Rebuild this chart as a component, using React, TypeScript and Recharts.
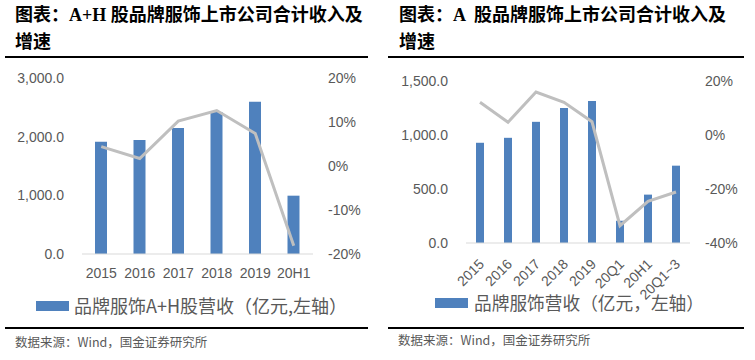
import { Bar, ComposedChart, Line, XAxis, YAxis } from 'recharts';

const ahCategories = ['2015', '2016', '2017', '2018', '2019', '20H1'];
const ahRevenue = [1914, 1943, 2148, 2420, 2597, 994];
const ahGrowth = [4.4, 1.7, 10.2, 12.6, 7.4, -18.1];
const ahRevenueTicks = [0, 1000, 2000, 3000];
const ahGrowthTicks = [-20, -10, 0, 10, 20];

const aCategories = ['2015', '2016', '2017', '2018', '2019', '20Q1', '20H1', '20Q1~3'];
const aRevenue = [928, 974, 1122, 1251, 1315, 206, 448, 716];
const aGrowth = [12.1, 4.7, 15.9, 12.1, 4.9, -33.6, -24.6, -21.1];
const aRevenueTicks = [0, 500, 1000, 1500];
const aGrowthTicks = [-40, -20, 0, 20];

const BLUE = '#4f81bd';
const GREY_LINE = '#bfbfbf';
const TEXT = '#595959';
const SANS = "'Liberation Sans', 'Noto Sans CJK SC', sans-serif";
const CJK = "'Noto Sans CJK SC', sans-serif";
const TITLE_FONT = "'Liberation Serif', 'Noto Sans CJK SC', serif";

const fmtRevenue = (v: number) =>
  v.toLocaleString('en-US', { minimumFractionDigits: 1, maximumFractionDigits: 1 });
const fmtPct = (v: number) => `${v}%`;

// x labels of the right chart, slanted like Excel does it
const RotatedTick = (props: any) => {
  const { x, y, payload } = props;
  return (
    <g transform={`translate(${x + 5},${y + 14})`}>
      <text x={0} y={0} textAnchor="end" transform="rotate(-45)" fontSize={14} fill={TEXT} fontFamily={SANS}>
        {payload.value}
      </text>
    </g>
  );
};

export default function App() {
  const ahData = ahCategories.map((c, i) => ({ cat: c, revenue: ahRevenue[i], growth: ahGrowth[i] }));
  const aData = aCategories.map((c, i) => ({ cat: c, revenue: aRevenue[i], growth: aGrowth[i] }));

  const tickStyle = { fontSize: 14, fill: TEXT, fontFamily: SANS };

  return (
    <div style={{ position: 'absolute', left: 0, top: 0, width: 755, height: 360, background: '#fff' }}>
      {/* left panel */}
      <div style={{ position: 'absolute', left: 15, top: 2, fontFamily: TITLE_FONT, fontWeight: 'bold', fontSize: 18, lineHeight: '27px', color: '#000', whiteSpace: 'nowrap' }}>
        图表：A+H 股品牌服饰上市公司合计收入及<br />增速
      </div>
      <div style={{ position: 'absolute', left: 5, top: 56, width: 363, height: 2, background: '#000' }} />
      <div style={{ position: 'absolute', left: 0, top: 60 }}>
        <ComposedChart width={377} height={240} data={ahData} margin={{ top: 18, right: 0, bottom: 10, left: 0 }}>
          <XAxis dataKey="cat" height={36} tickLine={false} stroke="#d9d9d9" tick={tickStyle} tickMargin={8} interval={0} />
          <YAxis yAxisId="left" width={82} domain={[0, 3000]} ticks={ahRevenueTicks} tickFormatter={fmtRevenue}
            axisLine={false} tickLine={false} tick={tickStyle} tickMargin={12} />
          <YAxis yAxisId="right" orientation="right" width={64} domain={[-20, 20]} ticks={ahGrowthTicks} tickFormatter={fmtPct}
            axisLine={false} tickLine={false} tick={{ ...tickStyle, textAnchor: 'start' }} tickMargin={9} />
          <Bar yAxisId="left" dataKey="revenue" fill={BLUE} barSize={12} isAnimationActive={false} />
          <Line yAxisId="right" dataKey="growth" type="linear" stroke={GREY_LINE} strokeWidth={3} dot={false} isAnimationActive={false} />
        </ComposedChart>
      </div>
      <div style={{ position: 'absolute', left: 36, top: 301, width: 33, height: 10, background: BLUE }} />
      <div style={{ position: 'absolute', left: 74, top: 293, fontFamily: CJK, fontSize: 18, lineHeight: '25px', color: TEXT, whiteSpace: 'nowrap' }}>
        品牌服饰A+H股营收（亿元,左轴）
      </div>
      <div style={{ position: 'absolute', left: 5, top: 327, width: 363, height: 2, background: '#000' }} />
      <div style={{ position: 'absolute', left: 15, top: 333, fontFamily: CJK, fontSize: 12.5, lineHeight: '18px', color: TEXT, whiteSpace: 'nowrap' }}>
        数据来源：Wind，国金证券研究所
      </div>

      {/* right panel */}
      <div style={{ position: 'absolute', left: 399, top: 2, fontFamily: TITLE_FONT, fontWeight: 'bold', fontSize: 18, lineHeight: '27px', color: '#000', whiteSpace: 'pre' }}>
        图表：A  股品牌服饰上市公司合计收入及{'\n'}增速
      </div>
      <div style={{ position: 'absolute', left: 388, top: 56, width: 356, height: 2, background: '#000' }} />
      <div style={{ position: 'absolute', left: 377, top: 60 }}>
        <ComposedChart width={378} height={245} data={aData} margin={{ top: 21, right: 0, bottom: 15, left: 0 }}>
          <XAxis dataKey="cat" height={47} tickLine={false} stroke="#d9d9d9" tick={<RotatedTick />} interval={0} />
          <YAxis yAxisId="left" width={89} domain={[0, 1500]} ticks={aRevenueTicks} tickFormatter={fmtRevenue}
            axisLine={false} tickLine={false} tick={tickStyle} tickMargin={12} />
          <YAxis yAxisId="right" orientation="right" width={65} domain={[-40, 20]} ticks={aGrowthTicks} tickFormatter={fmtPct}
            axisLine={false} tickLine={false} tick={{ ...tickStyle, textAnchor: 'start' }} tickMargin={9} />
          <Bar yAxisId="left" dataKey="revenue" fill={BLUE} barSize={8} isAnimationActive={false} />
          <Line yAxisId="right" dataKey="growth" type="linear" stroke={GREY_LINE} strokeWidth={3} dot={false} isAnimationActive={false} />
        </ComposedChart>
      </div>
      <div style={{ position: 'absolute', left: 435, top: 298, width: 33, height: 10, background: BLUE }} />
      <div style={{ position: 'absolute', left: 474, top: 290, fontFamily: CJK, fontSize: 17.7, lineHeight: '25px', color: TEXT, whiteSpace: 'nowrap' }}>
        品牌服饰营收（亿元，左轴）
      </div>
      <div style={{ position: 'absolute', left: 388, top: 327, width: 356, height: 2, background: '#000' }} />
      <div style={{ position: 'absolute', left: 398, top: 331, fontFamily: CJK, fontSize: 12.5, lineHeight: '18px', color: TEXT, whiteSpace: 'nowrap' }}>
        数据来源：Wind，国金证券研究所
      </div>
    </div>
  );
}
